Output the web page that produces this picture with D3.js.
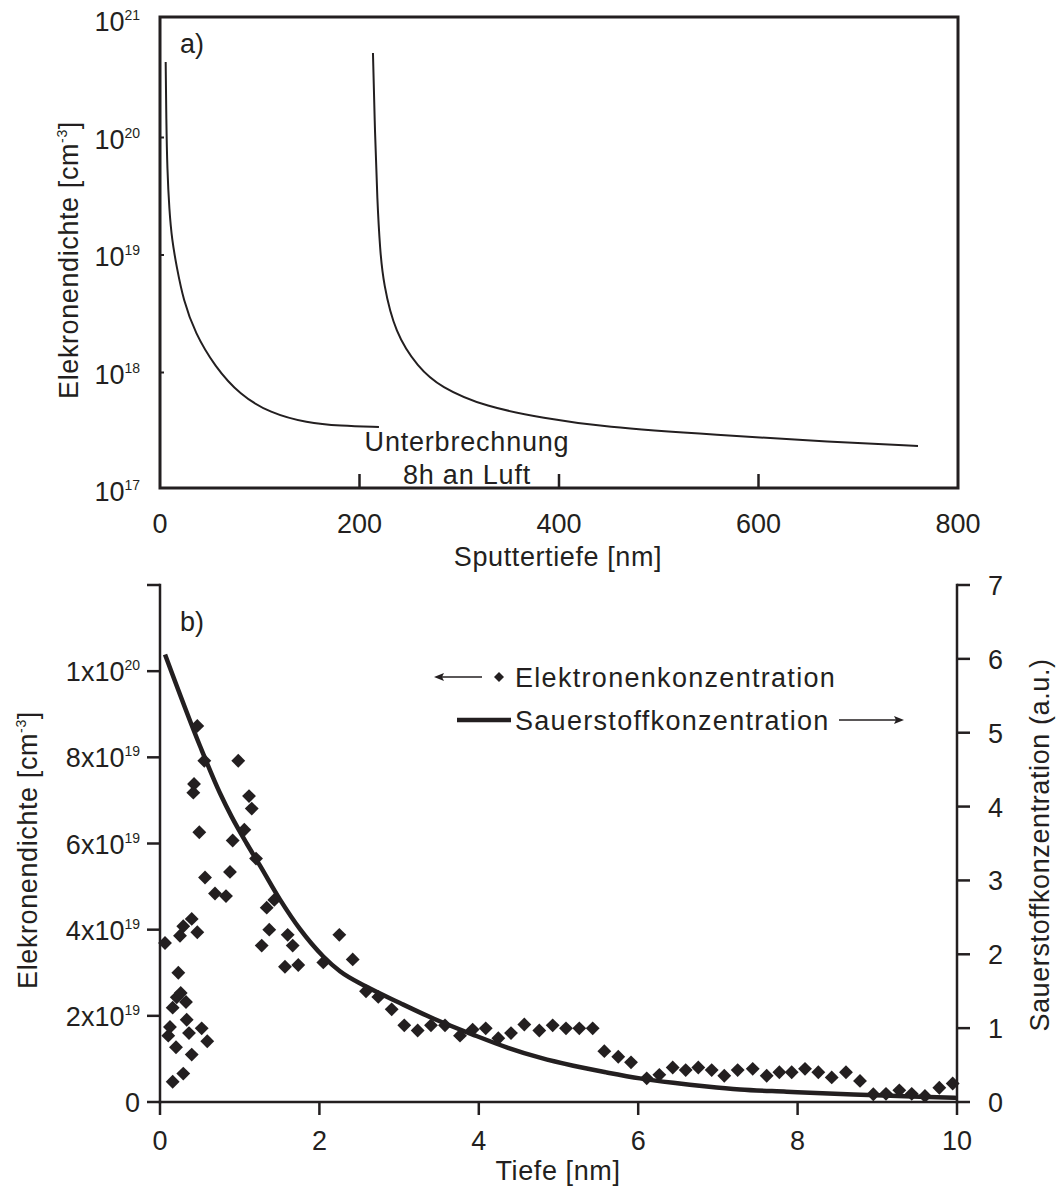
<!DOCTYPE html>
<html>
<head>
<meta charset="utf-8">
<script src="https://cdn.jsdelivr.net/npm/d3@7"></script>
<style>
  body { margin: 0; background: #fff; }
  svg { display: block; font-family: "Liberation Sans", Arial, sans-serif; }
  text { fill: #231f20; }
</style>
</head>
<body>
<svg id="chart" width="1057" height="1189"></svg>
<script>
// ---- panel a) : sputter profile, log scale ----
const sputterTicks = [0, 200, 400, 600, 800];
const densityDecades = [1e17, 1e18, 1e19, 1e20, 1e21];
// [depth nm, electron density cm^-3] before the interruption
const profileBefore = [
  [5.7, 4.39e20], [6.3, 1.41e20], [7.3, 5.29e19], [9.3, 2.42e19], [12, 1.34e19],
  [16.7, 7.94e18], [23.4, 4.14e18], [35.1, 2.17e18], [55.1, 1.12e18], [80.2, 6.44e17],
  [110.3, 4.52e17], [147.4, 3.72e17], [180.5, 3.51e17], [219.5, 3.44e17]
];
// after 8h in air
const profileAfter = [
  [213.5, 5.24e20], [215.5, 1.09e20], [217.8, 2.94e19], [220.6, 1.1e19],
  [223.9, 5.78e18], [235.6, 2.17e18], [258.6, 1.11e18], [280.7, 7.53e17],
  [326.8, 5.08e17], [385, 4.1e17], [442.7, 3.44e17], [558.4, 2.94e17],
  [673.7, 2.56e17], [759.9, 2.37e17]
];

// ---- panel b) : depth profile ----
const depthTicks = [0, 2, 4, 6, 8, 10];
const densityTicks = [0, 2, 4, 6, 8, 10, 12]; // in 1e19 cm^-3
const oxygenTicks = [0, 1, 2, 3, 4, 5, 6, 7];

// Elektronenkonzentration, depth nm / density in 1e19 cm^-3
const elecDepth = [
  0.063, 0.104, 0.125, 0.159, 0.159, 0.201, 0.210, 0.230, 0.251, 0.260,
  0.292, 0.292, 0.326, 0.335, 0.364, 0.398, 0.398, 0.418, 0.427, 0.468,
  0.468, 0.493, 0.523, 0.556, 0.565, 0.593, 0.690, 0.828, 0.878, 0.912,
  0.982, 1.058, 1.117, 1.151, 1.205, 1.276, 1.339, 1.371, 1.434, 1.568,
  1.602, 1.665, 1.735, 2.049, 2.250, 2.418, 2.585, 2.739, 2.907, 3.065,
  3.233, 3.400, 3.576, 3.764, 3.923, 4.087, 4.245, 4.404, 4.571, 4.759,
  4.927, 5.094, 5.261, 5.429, 5.575, 5.750, 5.910, 6.107, 6.265, 6.433,
  6.596, 6.754, 6.922, 7.080, 7.248, 7.437, 7.612, 7.771, 7.926, 8.093,
  8.260, 8.428, 8.607, 8.783, 8.950, 9.109, 9.276, 9.432, 9.598, 9.778,
  9.946
];
const elecDensity = [
  3.69, 1.54, 1.74, 2.19, 0.47, 1.27, 2.43, 3.00, 3.86, 2.53,
  4.08, 0.66, 2.32, 1.91, 1.60, 4.25, 1.10, 7.18, 7.38, 8.73,
  3.94, 6.26, 1.71, 7.92, 5.21, 1.41, 4.84, 4.78, 5.34, 6.07,
  7.92, 6.32, 7.10, 6.81, 5.65, 3.63, 4.51, 4.00, 4.69, 3.14,
  3.88, 3.63, 3.18, 3.24, 3.88, 3.31, 2.57, 2.44, 2.15, 1.78,
  1.66, 1.78, 1.78, 1.54, 1.68, 1.71, 1.48, 1.60, 1.80, 1.66,
  1.78, 1.71, 1.71, 1.71, 1.18, 1.05, 0.92, 0.55, 0.63, 0.80,
  0.74, 0.80, 0.74, 0.61, 0.74, 0.77, 0.61, 0.69, 0.69, 0.77,
  0.69, 0.57, 0.69, 0.49, 0.18, 0.19, 0.27, 0.19, 0.14, 0.33,
  0.43
];

// Sauerstoffkonzentration (a.u.)
const oxyDepth = [
  0.063, 0.502, 0.753, 0.900, 1.088, 1.255, 1.506, 1.757, 2.049, 2.258,
  2.593, 3.011, 3.429, 3.931, 4.350, 4.768, 5.186, 5.605, 6.022, 6.440,
  6.860, 7.277, 7.863, 8.699, 9.536, 10.0
];
const oxyConc = [
  6.06, 4.82, 4.18, 3.86, 3.50, 3.20, 2.74, 2.34, 1.97, 1.77,
  1.56, 1.34, 1.13, 0.91, 0.74, 0.60, 0.49, 0.40, 0.32, 0.26,
  0.21, 0.17, 0.14, 0.10, 0.07, 0.055
];

const ink = "#231f20";
const fs = 27;
const svg = d3.select("#chart");
svg.append("rect").attr("width", 1057).attr("height", 1189).attr("fill", "#fff");

// helper for "mant x 10^exp" style labels
function powerLabel(sel, base, exp) {
  sel.append("tspan").text(base);
  sel.append("tspan").attr("font-size", 14).attr("dy", -11).text(exp);
}

// ================= panel a =================
const xA = d3.scaleLinear().domain([0, 800]).range([160, 958]);
const yA = d3.scaleLog().domain([1e17, 1e21]).range([490, 20]);
const gA = svg.append("g");

gA.append("rect")
  .attr("x", 160).attr("y", 17).attr("width", 798).attr("height", 471)
  .attr("fill", "none").attr("stroke", ink).attr("stroke-width", 3);

gA.selectAll(".ltick").data(densityDecades.slice(1, 4)).join("line")
  .attr("x1", 160).attr("x2", 164)
  .attr("y1", (d) => yA(d)).attr("y2", (d) => yA(d))
  .attr("stroke", ink).attr("stroke-width", 2);

gA.selectAll(".btick").data(sputterTicks.slice(1, 4)).join("line")
  .attr("x1", (d) => xA(d)).attr("x2", (d) => xA(d))
  .attr("y1", 488).attr("y2", 474)
  .attr("stroke", ink).attr("stroke-width", 2.5);

gA.selectAll(".xlab").data(sputterTicks).join("text")
  .attr("x", (d) => xA(d)).attr("y", 533)
  .attr("text-anchor", "middle").attr("font-size", fs)
  .text((d) => d);

gA.selectAll(".ylab").data(densityDecades).join("text")
  .attr("x", 140).attr("y", (d) => yA(d) + 11)
  .attr("text-anchor", "end").attr("font-size", fs)
  .each(function (d) {
    powerLabel(d3.select(this), "10", Math.round(Math.log10(d)));
  });

const lineA = d3.line()
  .x((d) => xA(d[0])).y((d) => yA(d[1]))
  .curve(d3.curveBasis);

[profileBefore, profileAfter].forEach((p) => {
  gA.append("path").attr("d", lineA(p))
    .attr("fill", "none").attr("stroke", ink).attr("stroke-width", 2);
});

gA.append("text").attr("x", 180).attr("y", 53).attr("font-size", fs).text("a)");
gA.append("text").attr("x", 467).attr("y", 451).attr("text-anchor", "middle")
  .attr("font-size", fs).attr("letter-spacing", 0.8).text("Unterbrechnung");
gA.append("text").attr("x", 467).attr("y", 484).attr("text-anchor", "middle")
  .attr("font-size", fs).attr("letter-spacing", 0.8).text("8h an Luft");
gA.append("text").attr("x", 558).attr("y", 566).attr("text-anchor", "middle")
  .attr("font-size", fs).attr("letter-spacing", 0.6).text("Sputtertiefe [nm]");

const titleA = gA.append("text")
  .attr("transform", "translate(78,260) rotate(-90)")
  .attr("text-anchor", "middle").attr("font-size", fs).attr("letter-spacing", 0.6);
titleA.append("tspan").text("Elekronendichte [cm");
titleA.append("tspan").attr("font-size", 14).attr("dy", -11).text("-3");
titleA.append("tspan").attr("dy", 11).text("]");

// ================= panel b =================
const xB = d3.scaleLinear().domain([0, 10]).range([160, 957]);
const yL = d3.scaleLinear().domain([0, 12]).range([1102, 585]);
const yR = d3.scaleLinear().domain([0, 7]).range([1102, 585]);
const gB = svg.append("g");

const axisLines = [
  [160, 585, 160, 1102], [957, 585, 957, 1102], [160, 1102, 957, 1102]
];
gB.selectAll(".axl").data(axisLines).join("line")
  .attr("x1", (d) => d[0]).attr("y1", (d) => d[1])
  .attr("x2", (d) => d[2]).attr("y2", (d) => d[3])
  .attr("stroke", ink).attr("stroke-width", 2.5).attr("stroke-linecap", "square");

gB.selectAll(".lt").data(densityTicks).join("line")
  .attr("x1", 147).attr("x2", 160)
  .attr("y1", (d) => yL(d)).attr("y2", (d) => yL(d))
  .attr("stroke", ink).attr("stroke-width", 2.5);
gB.selectAll(".rt").data(oxygenTicks).join("line")
  .attr("x1", 957).attr("x2", 970)
  .attr("y1", (d) => yR(d)).attr("y2", (d) => yR(d))
  .attr("stroke", ink).attr("stroke-width", 2.5);
gB.selectAll(".bt").data(depthTicks).join("line")
  .attr("x1", (d) => xB(d)).attr("x2", (d) => xB(d))
  .attr("y1", 1102).attr("y2", 1115)
  .attr("stroke", ink).attr("stroke-width", 2.5);

gB.selectAll(".ll").data(densityTicks.slice(0, 6)).join("text")
  .attr("x", 140).attr("y", (d) => yL(d) + 10)
  .attr("text-anchor", "end").attr("font-size", fs)
  .each(function (d) {
    const s = d3.select(this);
    if (d === 0) s.text("0");
    else if (d === 10) powerLabel(s, "1x10", "20");
    else powerLabel(s, d + "x10", "19");
  });
gB.selectAll(".rl").data(oxygenTicks).join("text")
  .attr("x", 988).attr("y", (d) => yR(d) + 10)
  .attr("font-size", fs).text((d) => d);
gB.selectAll(".bl").data(depthTicks).join("text")
  .attr("x", (d) => xB(d)).attr("y", 1150)
  .attr("text-anchor", "middle").attr("font-size", fs).text((d) => d);

gB.append("text").attr("x", 558).attr("y", 1180).attr("text-anchor", "middle")
  .attr("font-size", fs).attr("letter-spacing", 0.6).text("Tiefe [nm]");

const titleL = gB.append("text")
  .attr("transform", "translate(37,850) rotate(-90)")
  .attr("text-anchor", "middle").attr("font-size", fs).attr("letter-spacing", 0.6);
titleL.append("tspan").text("Elekronendichte [cm");
titleL.append("tspan").attr("font-size", 14).attr("dy", -11).text("-3");
titleL.append("tspan").attr("dy", 11).text("]");

gB.append("text")
  .attr("transform", "translate(1049,845) rotate(-90)")
  .attr("text-anchor", "middle").attr("font-size", fs).attr("letter-spacing", 0.6)
  .text("Sauerstoffkonzentration (a.u.)");

gB.append("text").attr("x", 180).attr("y", 631).attr("font-size", fs).text("b)");

// oxygen curve
const oxy = oxyDepth.map((d, i) => [d, oxyConc[i]]);
gB.append("path")
  .attr("d", d3.line().x((d) => xB(d[0])).y((d) => yR(d[1]))
    .curve(d3.curveMonotoneX)(oxy))
  .attr("fill", "none").attr("stroke", ink).attr("stroke-width", 4.5);

// electron points
const diamond = d3.symbol(d3.symbolSquare, 96);
const elec = elecDepth.map((d, i) => [d, elecDensity[i]]);
gB.selectAll(".pt").data(elec).join("path")
  .attr("d", diamond)
  .attr("transform", (d) => `translate(${xB(d[0])},${yL(d[1])}) rotate(45)`)
  .attr("fill", ink);

// legend
const leg = gB.append("g");
function arrow(x1, x2, y) {
  const dir = Math.sign(x2 - x1);
  leg.append("line").attr("x1", x1).attr("x2", x2 - dir * 4).attr("y1", y).attr("y2", y)
    .attr("stroke", ink).attr("stroke-width", 1.6);
  leg.append("path")
    .attr("d", `M${x2},${y} L${x2 - dir * 10},${y - 4} L${x2 - dir * 8},${y} L${x2 - dir * 10},${y + 4} Z`)
    .attr("fill", ink);
}
arrow(482, 434, 677);
leg.append("path").attr("d", d3.symbol(d3.symbolSquare, 50))
  .attr("transform", "translate(499,677) rotate(45)").attr("fill", ink);
leg.append("text").attr("x", 515).attr("y", 687).attr("font-size", fs)
  .attr("letter-spacing", 1.3).text("Elektronenkonzentration");
leg.append("line").attr("x1", 457).attr("x2", 511).attr("y1", 720).attr("y2", 720)
  .attr("stroke", ink).attr("stroke-width", 4.5);
leg.append("text").attr("x", 515).attr("y", 730).attr("font-size", fs)
  .attr("letter-spacing", 1.3).text("Sauerstoffkonzentration");
arrow(839, 904, 720);
</script>
</body>
</html>
